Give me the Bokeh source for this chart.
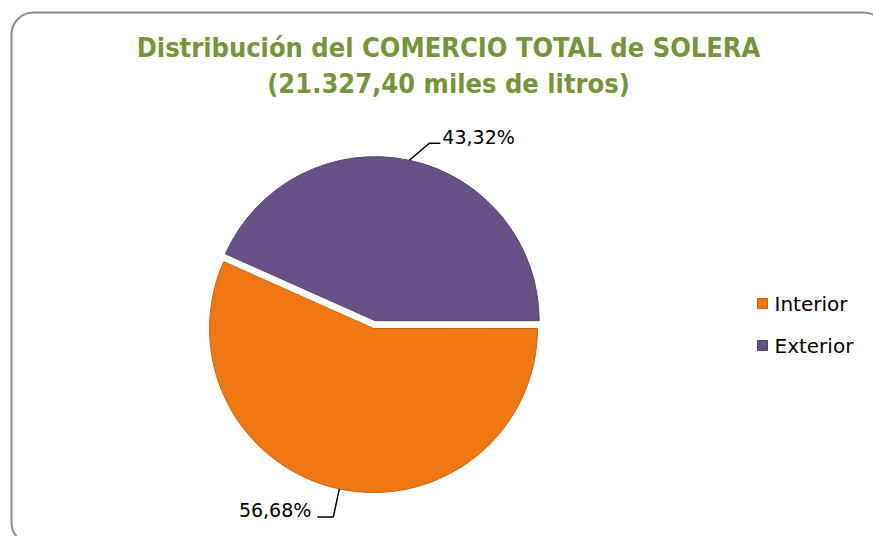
import math
from bokeh.plotting import figure
from bokeh.models import Range1d
from bokeh.core.properties import value
from bokeh.embed import file_html
from bokeh.resources import INLINE

# ---- data ----
categories = ["Interior", "Exterior"]
percentages = [56.68, 43.32]
value_labels = ["56,68%", "43,32%"]
colors = ["#F07814", "#675187"]
edge_colors = ["#C9630F", "#54416F"]
title_lines = ["Distribución del COMERCIO TOTAL de SOLERA", "(21.327,40 miles de litros)"]

# ---- layout / style ----
W, H = 873, 536
CX, CY = 373, 328          # pie centre (page px)
R = 164
EXPLODE = [0, 8]           # per category explode distance
DRAW_ORDER = [1, 0]        # Exterior starts at 3 o'clock, counter-clockwise
LEADERS = {
    0: dict(elbow=(-6, 28), end=(-16, 0), text=(-6, -7), align="right"),
    1: dict(elbow=(20, -17), end=(11, 0), text=(2, -6), align="left"),
}

p = figure(width=W, height=H, x_range=Range1d(0, W), y_range=Range1d(-H, 0),
           output_backend="svg", toolbar_location=None, min_border=0)
p.axis.visible = False
p.grid.visible = False
p.outline_line_color = None
p.background_fill_color = "white"
p.border_fill_color = "white"


def Y(py):
    return -py


# chart area border
p.quad(left=11, right=885, top=Y(12), bottom=Y(544), fill_color=None,
       line_color="#8C8C8C", line_width=2, border_radius=22)

# title
for i, t in enumerate(title_lines):
    p.text(x=[448], y=[Y(47 + 36 * i)], text=[t], text_align="center", text_baseline="middle",
           text_font=value("DejaVu Sans Condensed"), text_font_style="bold",
           text_font_size="27px", text_color="#77933C")

# pie
total = sum(percentages)
start = 0.0
for idx in DRAW_ORDER:
    frac = percentages[idx] / total
    a0 = start
    a1 = start + frac * 2 * math.pi
    mid = (a0 + a1) / 2
    start = a1
    cx = CX + EXPLODE[idx] * math.cos(mid)
    cy = CY - EXPLODE[idx] * math.sin(mid)
    p.wedge(x=[cx], y=[Y(cy)], radius=R, start_angle=[a0], end_angle=[a1],
            fill_color=colors[idx], line_color=edge_colors[idx], line_width=1)
    ax = cx + R * math.cos(mid)
    ay = cy - R * math.sin(mid)
    L = LEADERS[idx]
    ex, ey = ax + L["elbow"][0], ay + L["elbow"][1]
    fx, fy = ex + L["end"][0], ey + L["end"][1]
    p.line(x=[ax, ex, fx], y=[Y(ay), Y(ey), Y(fy)], line_color="black", line_width=1.5)
    p.text(x=[fx + L["text"][0]], y=[Y(fy + L["text"][1])], text=[value_labels[idx]],
           text_align=L["align"], text_baseline="middle",
           text_font=value("DejaVu Sans"), text_font_size="19px", text_color="black")

# legend
for i, cat in enumerate(categories):
    ly = 303 + 42 * i
    p.scatter(x=[762], y=[Y(ly)], marker="square", size=10, fill_color=colors[i],
              line_color=edge_colors[i])
    p.text(x=[774], y=[Y(ly)], text=[cat], text_align="left", text_baseline="middle",
           text_font=value("DejaVu Sans"), text_font_size="20px", text_color="black")

open("out.html", "w").write(file_html(p, INLINE))
